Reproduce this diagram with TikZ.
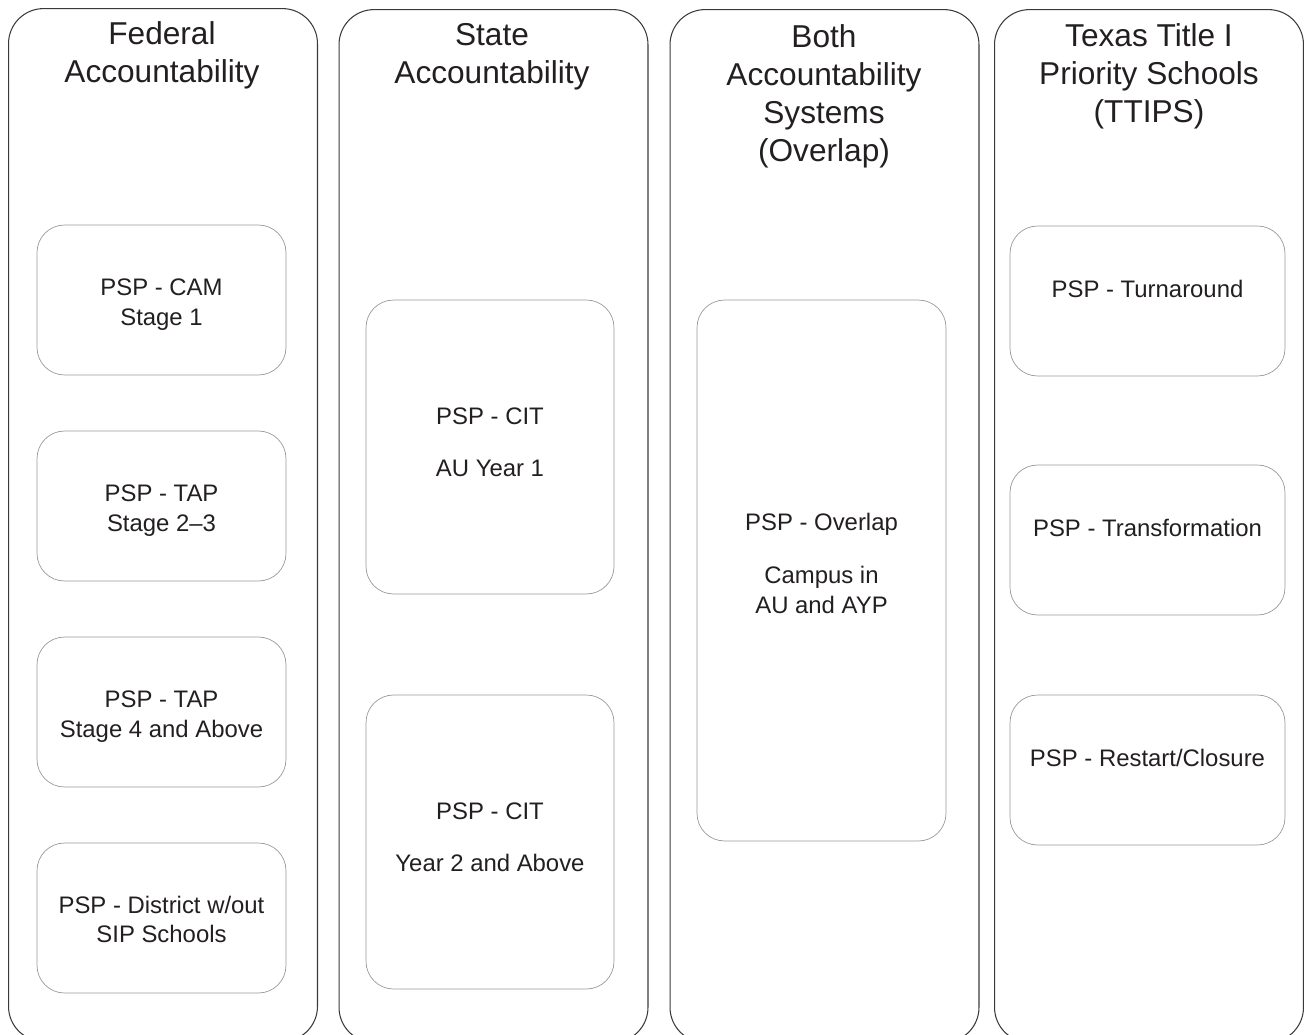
\documentclass[tikz,border=0pt]{standalone}
\usepackage{fontspec}
\setmainfont{Liberation Sans}
\usepackage{xcolor}
\usepackage{tikz}
\definecolor{inkgray}{HTML}{231F20}
\definecolor{outergray}{HTML}{3A3A3A}
\definecolor{innergray}{HTML}{9A9A9A}

\begin{document}
\begin{tikzpicture}[x=0.02cm,y=-0.02cm,
  column/.style={draw=outergray,line width=0.6pt,rounded corners=0.7cm,minimum width=6.18cm,minimum height=20.66cm,inner sep=0pt},
  heading/.style={anchor=north,align=center,inner sep=0pt,text=inkgray,font=\fontsize{18}{21.6}\selectfont},
  psp/.style={draw=innergray,line width=0.4pt,rounded corners=0.55cm,align=center,text=inkgray,font=\fontsize{13.6}{17}\selectfont,minimum width=4.98cm,minimum height=3cm,inner sep=0pt}]
\useasboundingbox(0,0)rectangle(1304,1034);
\node[column](fed)at(163,525){};
\node[column](state)at(493.5,526){};
\node[column](both)at(824.5,526){};
\node[column](ttips)at(1149,526){};
\node[heading](fedhead)at(162,21.5){Federal\\Accountability};
\node[heading](statehead)at(492,23.5){State\\Accountability};
\node[heading](bothhead)at(824,24.5){Both\\Accountability\\Systems\\(Overlap)};
\node[heading](ttipshead)at(1149,23.5){Texas Title I\\Priority Schools\\(TTIPS)};
\node[psp](cam)at(161.5,300){\mbox{}\\[-2.1pt]PSP - CAM\\Stage 1};
\node[psp](tapa)at(161.5,506){\mbox{}\\[-2.1pt]PSP - TAP\\Stage 2--3};
\node[psp](tapb)at(161.5,712){\mbox{}\\[-2.1pt]PSP - TAP\\Stage 4 and Above};
\node[psp](dist)at(161.5,918){\mbox{}\\[-5.5pt]PSP - District w/out\\SIP Schools};
\node[psp,minimum width=4.96cm,minimum height=5.88cm](cita)at(490,447){PSP - CIT\\[13pt]AU Year 1\\[-11.4pt]\mbox{}};
\node[psp,minimum width=4.96cm,minimum height=5.88cm](citb)at(490,842){PSP - CIT\\[13pt]Year 2 and Above\\[-11.4pt]\mbox{}};
\node[psp,minimum height=10.82cm](overlap)at(821.5,570.5){PSP - Overlap\\[13pt]Campus in\\AU and AYP\\[-8.6pt]\mbox{}};
\node[psp,minimum width=5.5cm](turn)at(1147.5,301){PSP - Turnaround\\[-2.6pt]\mbox{}};
\node[psp,minimum width=5.5cm](trans)at(1147.5,540){PSP - Transformation\\[-2.6pt]\mbox{}};
\node[psp,minimum width=5.5cm](restart)at(1147.5,770){PSP - Restart/Closure\\[-2.6pt]\mbox{}};
\end{tikzpicture}
\end{document}
